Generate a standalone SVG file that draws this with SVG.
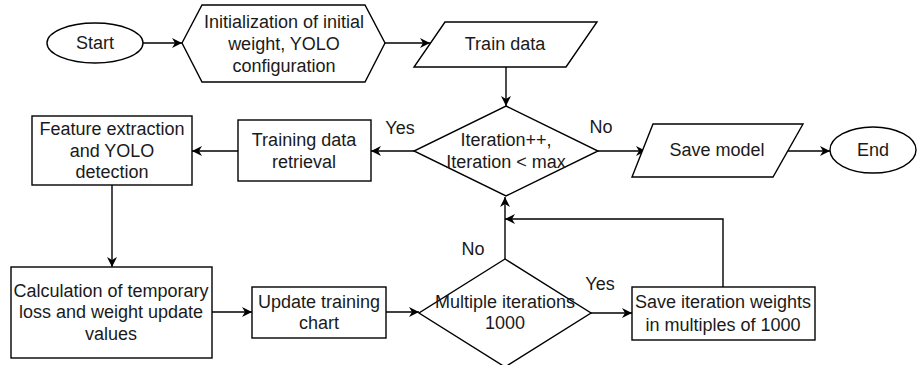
<svg xmlns="http://www.w3.org/2000/svg" width="918" height="365" viewBox="0 0 918 365">
<style>
.s{fill:#fff;stroke:#000;stroke-width:1.4}
.c{fill:none;stroke:#000;stroke-width:1.4}
text{font-family:"Liberation Sans",Arial,sans-serif;font-size:18px;fill:#1a1a1a;text-anchor:middle;dominant-baseline:central}
</style>
<defs>
<marker id="a" markerWidth="12" markerHeight="10" refX="10" refY="5" orient="auto" markerUnits="userSpaceOnUse">
<path d="M0,0 L10,5 L0,10 L3,5 Z" fill="#000"/>
</marker>
</defs>
<rect width="918" height="365" fill="#fff"/>
<g id="connectors">
<path class="c" d="M143,43 H182" marker-end="url(#a)"/>
<path class="c" d="M385,43 H430" marker-end="url(#a)"/>
<path class="c" d="M506,67 V106" marker-end="url(#a)"/>
<path class="c" d="M414,151 H371" marker-end="url(#a)"/>
<path class="c" d="M238,151 H192" marker-end="url(#a)"/>
<path class="c" d="M598,151 H646" marker-end="url(#a)"/>
<path class="c" d="M788,151 H830" marker-end="url(#a)"/>
<path class="c" d="M112,185 V267" marker-end="url(#a)"/>
<path class="c" d="M212,312 H252" marker-end="url(#a)"/>
<path class="c" d="M386,312 H419" marker-end="url(#a)"/>
<path class="c" d="M591,313 H632" marker-end="url(#a)"/>
<path class="c" d="M505,259 V197" marker-end="url(#a)"/>
<path class="c" d="M723,287 V219 H505" marker-end="url(#a)"/>
<text x="400" y="128">Yes</text>
<text x="601" y="127">No</text>
<text x="473" y="249">No</text>
<text x="600" y="284">Yes</text>
</g>
<g id="start">
<ellipse class="s" cx="95" cy="43" rx="48" ry="20"/>
<text x="95" y="43">Start</text>
</g>
<g id="init">
<polygon class="s" points="182,43 202,5 365,5 385,43 365,82 202,82"/>
<text x="284" y="22">Initialization of initial</text>
<text x="284" y="44">weight, YOLO</text>
<text x="284" y="66">configuration</text>
</g>
<g id="train">
<polygon class="s" points="445,22 597,22 566,67 414,67"/>
<text x="505" y="44">Train data</text>
</g>
<g id="iter">
<polygon class="s" points="506,106 598,151 506,196 414,151"/>
<text x="506" y="140">Iteration++,</text>
<text x="506" y="162">Iteration &lt; max</text>
</g>
<g id="save-model">
<polygon class="s" points="653,124 803,124 773,177 632,177"/>
<text x="717" y="150">Save model</text>
</g>
<g id="end">
<ellipse class="s" cx="873" cy="150" rx="43" ry="23"/>
<text x="873" y="150">End</text>
</g>
<g id="retrieval">
<rect class="s" x="238" y="120" width="133" height="61"/>
<text x="304" y="140">Training data</text>
<text x="304" y="162">retrieval</text>
</g>
<g id="feature">
<rect class="s" x="32" y="116" width="160" height="69"/>
<text x="112" y="129">Feature extraction</text>
<text x="112" y="151">and YOLO</text>
<text x="112" y="172">detection</text>
</g>
<g id="calc">
<rect class="s" x="11" y="267" width="201" height="91"/>
<text x="111" y="291">Calculation of temporary</text>
<text x="111" y="312">loss and weight update</text>
<text x="111" y="334">values</text>
</g>
<g id="update">
<rect class="s" x="252" y="287" width="134" height="51"/>
<text x="319" y="302">Update training</text>
<text x="319" y="323">chart</text>
</g>
<g id="multiple">
<polygon class="s" points="505,259 591,313 505,367 419,313"/>
<text x="505" y="302">Multiple iterations</text>
<text x="505" y="323">1000</text>
</g>
<g id="save-weights">
<rect class="s" x="632" y="287" width="183" height="53"/>
<text x="723" y="302">Save iteration weights</text>
<text x="723" y="325">in multiples of 1000</text>
</g>
</svg>
